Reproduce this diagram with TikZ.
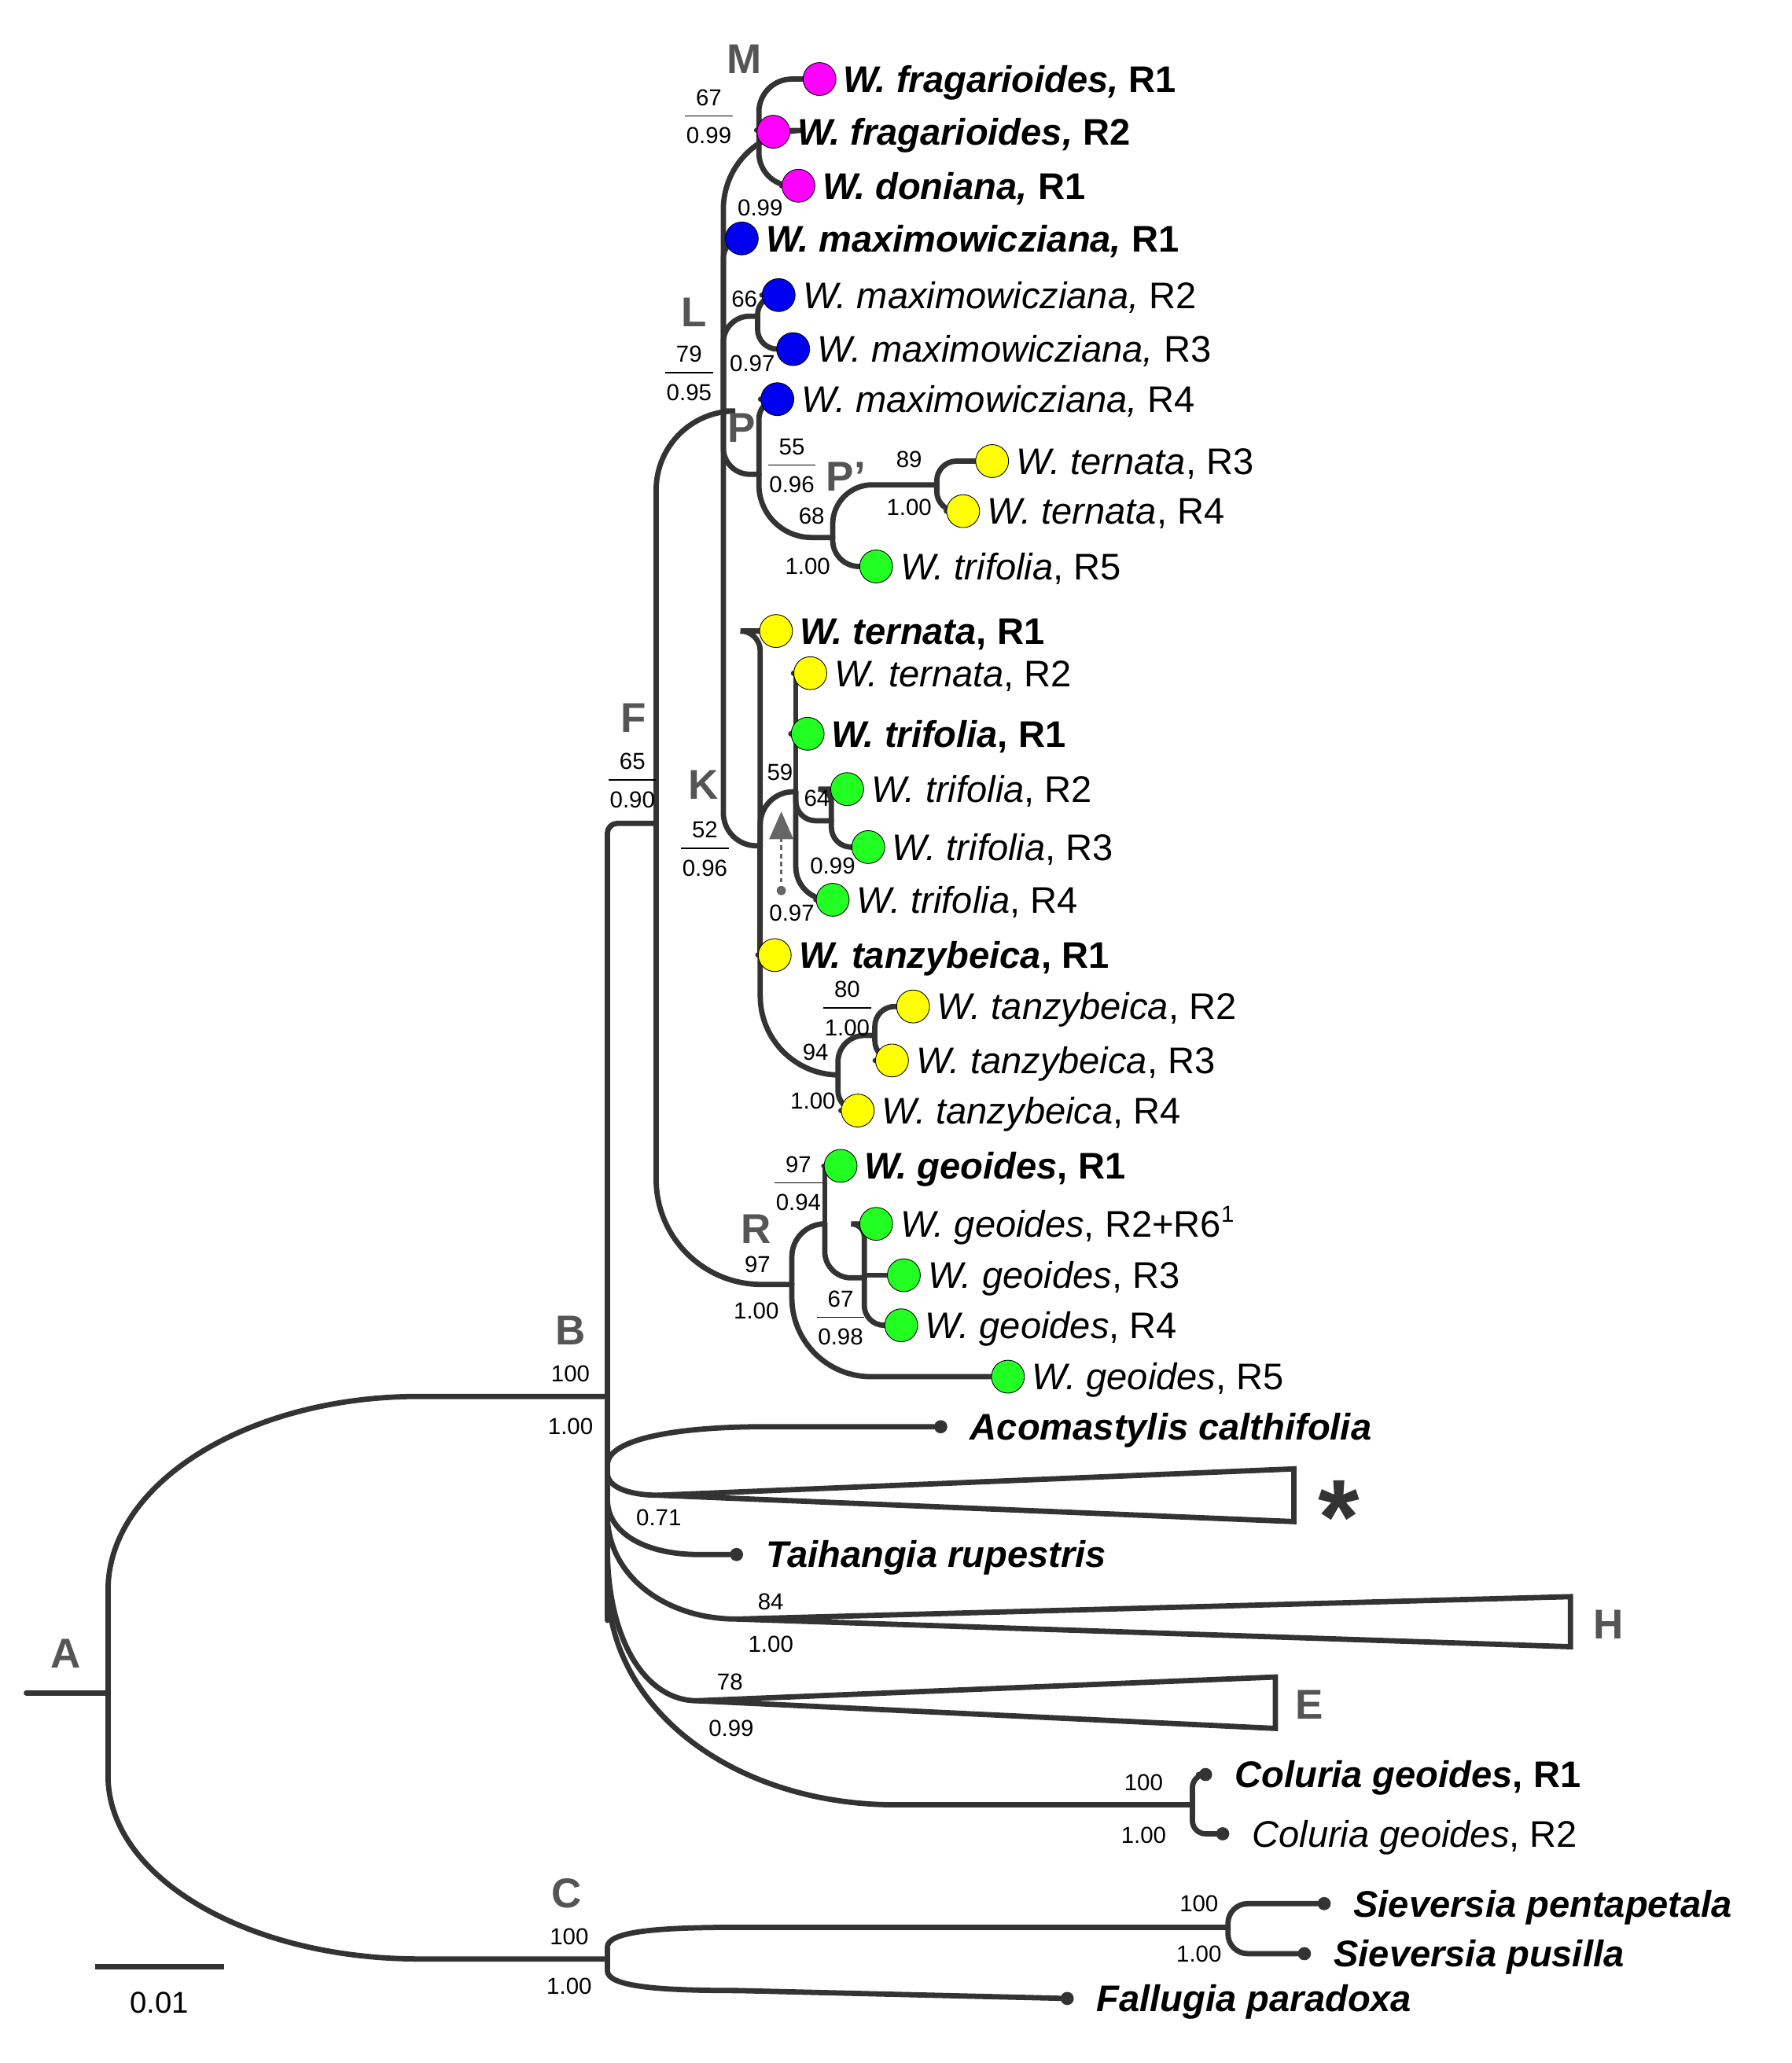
\documentclass[tikz,border=0pt]{standalone}
\usepackage{fontspec}
\setmainfont{Liberation Sans}
\usetikzlibrary{arrows.meta,backgrounds}
\definecolor{ln}{HTML}{333333}
\definecolor{clg}{HTML}{555555}
\definecolor{mag}{HTML}{FF00FF}
\definecolor{blu}{HTML}{0000F0}
\definecolor{yel}{HTML}{FFFF00}
\definecolor{grn}{HTML}{22FF22}
\tikzset{
  br/.style={draw=ln, line width=2.3pt, line cap=round},
  dot/.style={circle, draw=black, line width=0.3pt, minimum size=0.5cm, inner sep=0pt},
  bdot/.style={circle, fill=ln, minimum size=0.2cm, inner sep=0pt},
  lab/.style={inner sep=0pt, font=\fontsize{16}{18}\selectfont, anchor=base west},
  num/.style={inner sep=0pt, font=\fontsize{10}{12}\selectfont},
  clade/.style={inner sep=0pt, font=\fontsize{18}{20}\selectfont\bfseries, text=clg},
}
\newcommand{\tipc}[5]{\node[dot, fill=#4] (#1) at (#2,#3) {};
  \node[lab] (#1l) at ({#2+18},{#3+10}) {#5};}
\newcommand{\tipb}[4]{\node[bdot] (#1) at (#2,#3) {};
  \node[lab] (#1l) at ({#2+22},{#3+10}) {#4};}
\newcommand{\frc}[4]{\node[num] at (#1,{#2-14}) {#3};
  \draw[line width=0.5pt] ({#1-18},#2) -- ({#1+18},#2);
  \node[num] at (#1,{#2+15}) {#4};}
\newcommand{\bi}[1]{\textbf{\textit{#1}}}
\begin{document}
\begin{tikzpicture}[x=0.02cm, y=-0.02cm]
\useasboundingbox (0,0) rectangle (1360,1566);
% internal coordinates
\coordinate (root) at (20,1285);
\coordinate (nA) at (82,1285);
\coordinate (nB) at (461,1060);
\coordinate (nC) at (461,1487);
\coordinate (nF) at (498,625);
\coordinate (bEnd) at (461,1230);
\coordinate (nL) at (549,312);
\coordinate (nR) at (601,975);
\coordinate (nM) at (576,99);
\coordinate (nMx) at (575,240);
\coordinate (nP) at (576,360);
\coordinate (nPp) at (632,408);
\coordinate (nTe) at (711,368);
\coordinate (nK) at (577,642);
\coordinate (nS) at (604,601);
\coordinate (n64) at (631,623);
\coordinate (nTz) at (636,816);
\coordinate (n80) at (664,786);
\coordinate (n97) at (626,929);
\coordinate (n67) at (656,970);
\coordinate (nCo) at (905,1370);
\coordinate (nSi) at (932,1463);
\coordinate (aB1) at (318,1060);
\coordinate (aC1) at (318,1487);
\coordinate (s1) at (82,1207);
\coordinate (s2) at (82,1348);
% tips
\tipc{fr1}{622}{60}{mag}{\bi{W. fragarioides,} \textbf{R1}}
\tipc{fr2}{587}{100}{mag}{\bi{W. fragarioides,} \textbf{R2}}
\tipc{don}{606}{141}{mag}{\bi{W. doniana,} \textbf{R1}}
\tipc{mx1}{563}{181}{blu}{\bi{W. maximowicziana,} \textbf{R1}}
\tipc{mx2}{591}{224}{blu}{\textit{W. maximowicziana,} R2}
\tipc{mx3}{602}{265}{blu}{\textit{W. maximowicziana,} R3}
\tipc{mx4}{590}{303}{blu}{\textit{W. maximowicziana,} R4}
\tipc{te3}{753}{350}{yel}{\textit{W. ternata}, R3}
\tipc{te4}{731}{388}{yel}{\textit{W. ternata}, R4}
\tipc{tf5}{665}{430}{grn}{\textit{W. trifolia}, R5}
\tipc{te1}{589}{479}{yel}{\bi{W. ternata}\textbf{, R1}}
\tipc{te2}{615}{511}{yel}{\textit{W. ternata}, R2}
\tipc{tf1}{613}{557}{grn}{\bi{W. trifolia}\textbf{, R1}}
\tipc{tf2}{643}{599}{grn}{\textit{W. trifolia}, R2}
\tipc{tf3}{659}{643}{grn}{\textit{W. trifolia}, R3}
\tipc{tf4}{632}{683}{grn}{\textit{W. trifolia}, R4}
\tipc{tz1}{588}{725}{yel}{\bi{W. tanzybeica}\textbf{, R1}}
\tipc{tz2}{693}{764}{yel}{\textit{W. tanzybeica}, R2}
\tipc{tz3}{677}{805}{yel}{\textit{W. tanzybeica}, R3}
\tipc{tz4}{651}{843}{yel}{\textit{W. tanzybeica}, R4}
\tipc{ge1}{638}{885}{grn}{\bi{W. geoides}\textbf{, R1}}
\tipc{ge2}{665}{929}{grn}{\textit{W. geoides}, R2+R6\textsuperscript{\fontsize{10}{10}\selectfont 1}}
\tipc{ge3}{686}{968}{grn}{\textit{W. geoides}, R3}
\tipc{ge4}{684}{1006}{grn}{\textit{W. geoides}, R4}
\tipc{ge5}{765}{1045}{grn}{\textit{W. geoides}, R5}
\tipb{ac}{714}{1083}{\bi{Acomastylis calthifolia}}
\tipb{ta}{559}{1180}{\bi{Taihangia rupestris}}
\tipb{co1}{915}{1347}{\bi{Coluria geoides}\textbf{, R1}}
\tipb{co2}{928}{1392}{\textit{Coluria geoides}, R2}
\tipb{sp}{1005}{1445}{\bi{Sieversia pentapetala}}
\tipb{spu}{990}{1483}{\bi{Sieversia pusilla}}
\tipb{fa}{810}{1517}{\bi{Fallugia paradoxa}}
% branches
\begin{pgfonlayer}{background}
\draw[br] (root) -- (nA);
\draw[br] (s2) -- (s1) .. controls (82,1126) and (188,1060) .. (aB1) -- (nB);
\draw[br] (s1) -- (s2) .. controls (82,1425) and (188,1487) .. (aC1) -- (nC);
\draw[br, rounded corners=0.15cm] (nF) -| (bEnd);
\draw[br, rounded corners=1.2cm] (nF) |- (nL);
\draw[br, rounded corners=1.6cm] (nF) |- (nR);
\draw[br, rounded corners=1.2cm] (nL) |- (nM);
\draw[br, rounded corners=0.5cm] (nL) |- (nK);
\draw[br, rounded corners=0.3cm] (nL) |- (mx1);
\draw[br, rounded corners=0.4cm] (nL) |- (nMx);
\draw[br, rounded corners=0.4cm] (nL) |- (nP);
\draw[br, rounded corners=0.5cm] (nM) |- (fr1);
\draw[br] (nM) -- (fr2);
\draw[br, rounded corners=0.5cm] (nM) |- (don);
\draw[br, rounded corners=0.3cm] (nMx) |- (mx2);
\draw[br, rounded corners=0.3cm] (nMx) |- (mx3);
\draw[br, rounded corners=0.3cm] (nP) |- (mx4);
\draw[br, rounded corners=0.8cm] (nP) |- (nPp);
\draw[br, rounded corners=0.6cm] (nPp) |- (nTe);
\draw[br, rounded corners=0.4cm] (nPp) |- (tf5);
\draw[br, rounded corners=0.3cm] (nTe) |- (te3);
\draw[br, rounded corners=0.3cm] (nTe) |- (te4);
\draw[br, rounded corners=0.3cm] (nK) |- (te1);
\draw[br] (nK) |- (tz1);
\draw[br, rounded corners=0.5cm] (nK) |- (nS);
\draw[br, rounded corners=1.2cm] (nK) |- (nTz);
\draw[br] (nS) |- (te2);
\draw[br] (nS) |- (tf1);
\draw[br, rounded corners=0.3cm] (nS) |- (n64);
\draw[br, rounded corners=0.5cm] (nS) |- (tf4);
\draw[br, rounded corners=0.2cm] (n64) |- (tf2);
\draw[br, rounded corners=0.3cm] (n64) |- (tf3);
\draw[br, rounded corners=0.4cm] (nTz) |- (n80);
\draw[br, rounded corners=0.3cm] (nTz) |- (tz4);
\draw[br, rounded corners=0.3cm] (n80) |- (tz2);
\draw[br, rounded corners=0.3cm] (n80) |- (tz3);
\draw[br, rounded corners=0.5cm] (nR) |- (n97);
\draw[br, rounded corners=1.2cm] (nR) |- (ge5);
\draw[br] (n97) |- (ge1);
\draw[br, rounded corners=0.4cm] (n97) |- (n67);
\draw[br, rounded corners=0.2cm] (n67) |- (ge2);
\draw[br] (n67) |- (ge3);
\draw[br, rounded corners=0.3cm] (n67) |- (ge4);
% B descendants
\coordinate (b1) at (461,1112); \coordinate (b1e) at (580,1083);
\draw[br] (b1) .. controls (461,1092) and (515,1083) .. (b1e) -- (ac);
\coordinate (b2) at (461,1118); \coordinate (st) at (500,1135);
\coordinate (st1) at (982,1115); \coordinate (st2) at (982,1155);
\draw[br] (b2) .. controls (461,1130) and (480,1135) .. (st);
\draw[br, line join=miter] (st) -- (st1) -- (st2) -- cycle;
\coordinate (b3) at (461,1138); \coordinate (b3e) at (530,1180);
\draw[br] (b3) .. controls (461,1165) and (492,1180) .. (b3e) -- (ta);
\coordinate (b4) at (461,1150); \coordinate (hA) at (559,1229);
\coordinate (h1) at (1192,1212); \coordinate (h2) at (1192,1250);
\draw[br] (b4) .. controls (461,1196) and (505,1229) .. (hA);
\draw[br, line join=miter] (hA) -- (h1) -- (h2) -- cycle;
\coordinate (b5) at (461,1175); \coordinate (eA) at (529,1291);
\coordinate (e1) at (968,1273); \coordinate (e2) at (968,1312);
\draw[br] (b5) .. controls (461,1245) and (490,1291) .. (eA);
\draw[br, line join=miter] (eA) -- (e1) -- (e2) -- cycle;
\coordinate (b6) at (461,1200); \coordinate (b6e) at (680,1370);
\draw[br] (b6) .. controls (461,1300) and (560,1370) .. (b6e) -- (nCo);
\draw[br, rounded corners=0.2cm] (nCo) |- (co1);
\draw[br, rounded corners=0.2cm] (nCo) |- (co2);
% C descendants
\coordinate (c1) at (461,1478); \coordinate (c1e) at (560,1463);
\coordinate (c2) at (461,1496); \coordinate (c2e) at (560,1511);
\draw[br] (c1) -- (c2);
\draw[br] (c1) .. controls (461,1466) and (500,1463) .. (c1e) -- (nSi);
\draw[br] (c2) .. controls (461,1508) and (500,1511) .. (c2e) -- (fa);
\draw[br, rounded corners=0.3cm] (nSi) |- (sp);
\draw[br, rounded corners=0.3cm] (nSi) |- (spu);
\end{pgfonlayer}
% dotted arrow
\coordinate (ar0) at (593,676); \coordinate (ar1) at (593,616);
\fill[clg!90] (ar0) circle (0.07cm);
\draw[clg!90, line width=1pt, dash pattern=on 2pt off 1.5pt, -{Triangle[length=0.42cm,width=0.36cm]}] (ar0) -- (ar1);
% clade letters
\node[clade] at (565,45) {M};
\node[clade] at (527,237) {L};
\node[clade] at (563,325) {P};
\node[clade] at (642,362) {P'};
\node[clade] at (481,545) {F};
\node[clade] at (534,596) {K};
\node[clade] at (574,933) {R};
\node[clade] at (433,1010) {B};
\node[clade] at (430,1437) {C};
\node[clade] at (50,1255) {A};
\node[clade] at (1221,1233) {H};
\node[clade] at (994,1294) {E};
\node[inner sep=0pt, font=\fontsize{46}{46}\selectfont\bfseries, text=ln] at (1016,1152) {*};
% support values
\frc{538}{88}{67}{0.99}
\node[num] at (577,158) {0.99};
\node[num] at (565,227) {66};
\node[num] at (571,276) {0.97};
\frc{523}{283}{79}{0.95}
\frc{601}{353}{55}{0.96}
\node[num] at (616,392) {68};
\node[num] at (613,430) {1.00};
\node[num] at (690,349) {89};
\node[num] at (690,385) {1.00};
\frc{480}{592}{65}{0.90}
\frc{535}{644}{52}{0.96}
\node[num] at (592,586) {59};
\node[num] at (620,606) {64};
\node[num] at (632,657) {0.99};
\node[num] at (601,693) {0.97};
\frc{643}{765}{80}{1.00}
\node[num] at (619,799) {94};
\node[num] at (617,836) {1.00};
\frc{606}{898}{97}{0.94}
\node[num] at (575,960) {97};
\node[num] at (574,995) {1.00};
\frc{638}{1000}{67}{0.98}
\node[num] at (433,1043) {100};
\node[num] at (433,1083) {1.00};
\node[num] at (500,1152) {0.71};
\node[num] at (585,1216) {84};
\node[num] at (585,1248) {1.00};
\node[num] at (554,1277) {78};
\node[num] at (555,1312) {0.99};
\node[num] at (868,1353) {100};
\node[num] at (868,1393) {1.00};
\node[num] at (432,1470) {100};
\node[num] at (432,1508) {1.00};
\node[num] at (910,1445) {100};
\node[num] at (910,1483) {1.00};
% scale bar
\coordinate (sc1) at (72,1493); \coordinate (sc2) at (170,1493);
\draw[br, line cap=butt] (sc1) -- (sc2);
\node[num, font=\fontsize{13}{14}\selectfont] at (121,1520) {0.01};
\end{tikzpicture}
\end{document}
